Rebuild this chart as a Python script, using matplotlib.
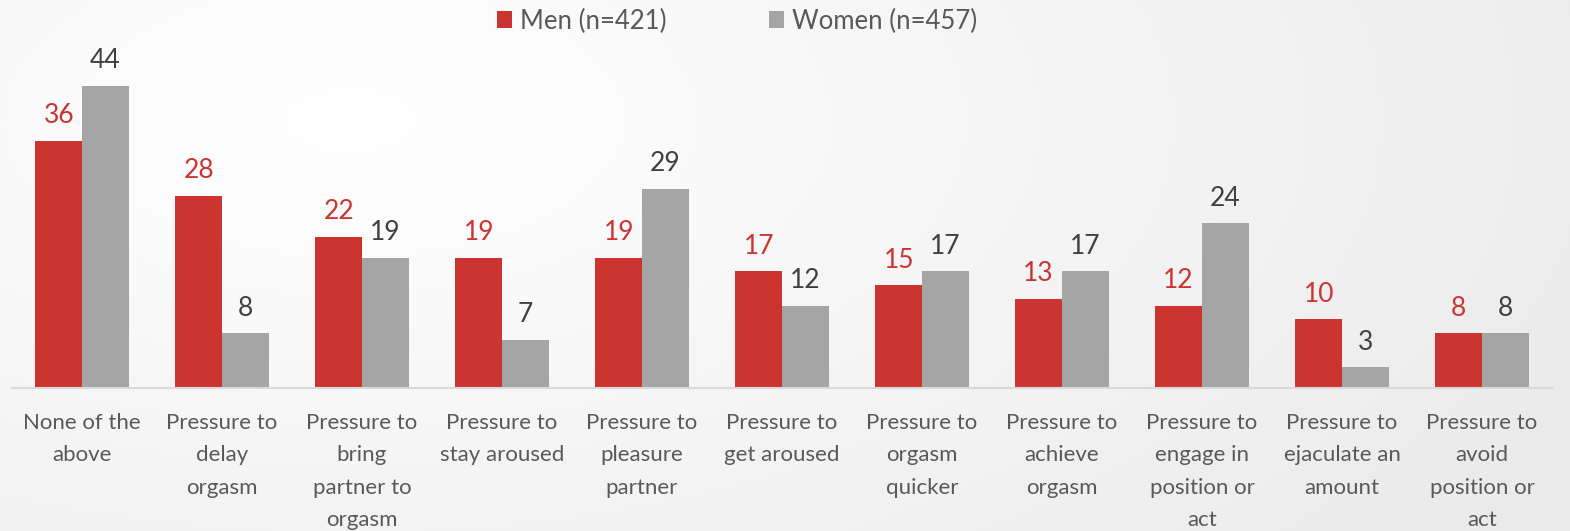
import matplotlib.pyplot as plt
import numpy as np

categories = ['None of the\nabove', 'Pressure to\ndelay\norgasm', 'Pressure to\nbring\npartner to\norgasm',
              'Pressure to\nstay aroused', 'Pressure to\npleasure\npartner', 'Pressure to\nget aroused',
              'Pressure to\norgasm\nquicker', 'Pressure to\nachieve\norgasm', 'Pressure to\nengage in\nposition or\nact',
              'Pressure to\nejaculate an\namount', 'Pressure to\navoid\nposition or\nact']
men = [36, 28, 22, 19, 19, 17, 15, 13, 12, 10, 8]
women = [44, 8, 19, 7, 29, 12, 17, 17, 24, 3, 8]

red = '#CC3431'
grey = '#A5A5A5'
plt.rcParams['font.family'] = ['Lato', 'DejaVu Sans']

fig = plt.figure(figsize=(15.70, 5.31), dpi=100)

# soft radial background
bg = fig.add_axes([0, 0, 1, 1], zorder=-10)
yy, xx = np.mgrid[0:531, 0:1570]
r = np.sqrt(((xx - 350) / 1400.0) ** 2 + ((yy - 120) / 700.0) ** 2)
shade = 1.0 - 0.08 * np.clip(r, 0, 1)
bg.imshow(np.dstack([shade, shade, shade]), aspect='auto', extent=[0, 1, 0, 1])
bg.axis('off')

ax = fig.add_axes([12 / 1570, 0.2693, 1540 / 1570, 0.6205])
ax.patch.set_alpha(0)
x = np.arange(len(categories))
w = 0.333
b1 = ax.bar(x - w / 2, men, w, color=red, label='Men (n=421)')
b2 = ax.bar(x + w / 2, women, w, color=grey, label='Women (n=457)')
for rect, v in zip(b1, men):
    ax.annotate(str(v), (rect.get_x() + rect.get_width() / 2, v), xytext=(0, 9),
                textcoords='offset points', ha='center', va='bottom', color=red, fontsize=19)
for rect, v in zip(b2, women):
    ax.annotate(str(v), (rect.get_x() + rect.get_width() / 2, v), xytext=(0, 9),
                textcoords='offset points', ha='center', va='bottom', color='#404040', fontsize=19)

ax.set_xlim(-0.5, len(categories) - 0.5)
ax.set_ylim(0, 48)
ax.set_yticks([])
ax.set_xticks(x)
ax.set_xticklabels(categories, fontsize=16, color='#595959', linespacing=1.77)
ax.tick_params(axis='x', length=0, pad=18)
for s in ['top', 'right', 'left']:
    ax.spines[s].set_visible(False)
ax.spines['bottom'].set_color('#D9D9D9')
ax.spines['bottom'].set_linewidth(1.5)

leg = fig.legend(handles=[b1, b2], loc='center', bbox_to_anchor=(737 / 1570, 1 - 21 / 531), ncol=2,
                 frameon=False, fontsize=18.5, handlelength=0.6, handleheight=0.6, handletextpad=0.3,
                 columnspacing=4.0)
for t in leg.get_texts():
    t.set_color('#595959')

fig.savefig('out.png', dpi=100)
